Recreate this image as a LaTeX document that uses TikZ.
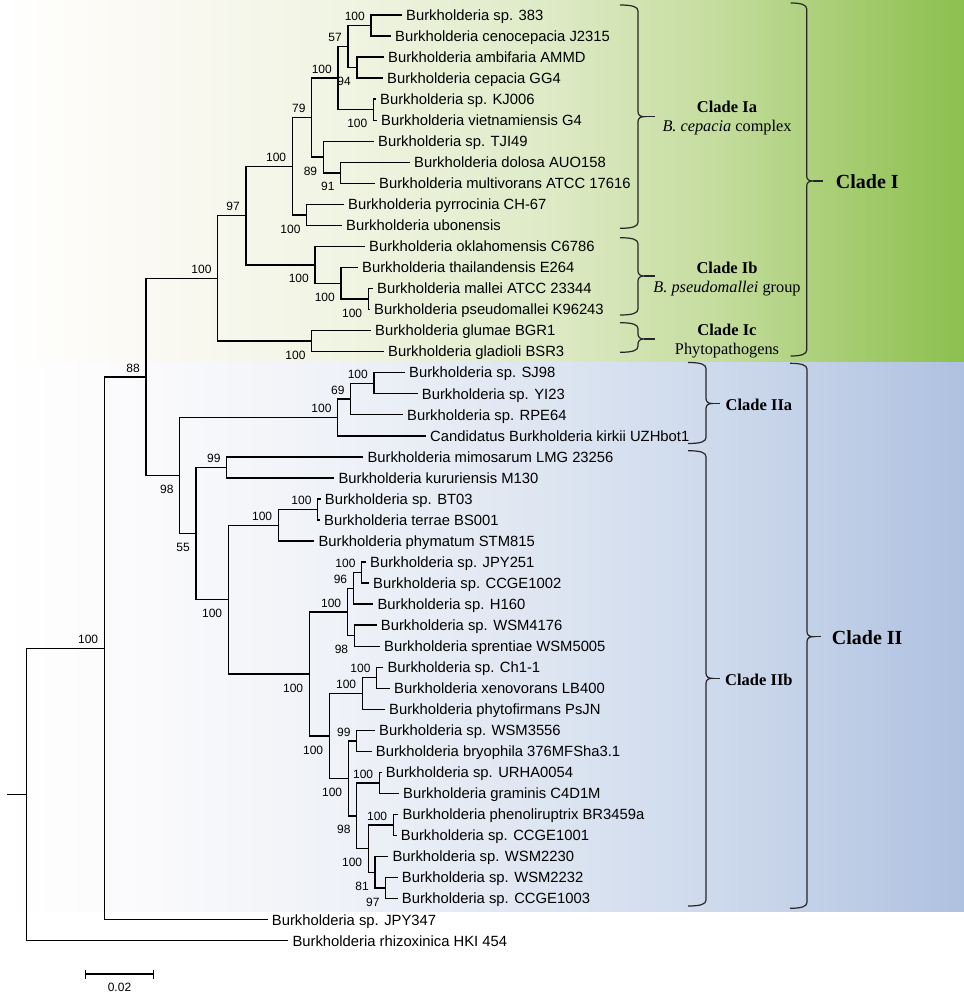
\documentclass[tikz,border=0pt]{standalone}
\usepackage{fontspec}
\setmainfont{Liberation Sans}
\newfontfamily\serifclade{Liberation Serif}
\definecolor{G0}{RGB}{255,255,255}
\definecolor{G1}{RGB}{250,249,243}
\definecolor{G2}{RGB}{240,244,226}
\definecolor{G3}{RGB}{222,234,198}
\definecolor{G4}{RGB}{196,220,157}
\definecolor{G5}{RGB}{165,204,112}
\definecolor{G6}{RGB}{140,192,78}
\definecolor{B0}{RGB}{255,255,255}
\definecolor{B1}{RGB}{250,250,252}
\definecolor{B2}{RGB}{238,241,247}
\definecolor{B3}{RGB}{221,229,241}
\definecolor{B4}{RGB}{205,217,236}
\definecolor{B5}{RGB}{190,205,230}
\definecolor{B6}{RGB}{174,193,224}
\tikzset{
 tree/.style={draw=black, line width=1.4pt},
 leaf/.style={anchor=base west, inner sep=0pt, xshift=4pt, yshift=-5.3pt, font=\fontsize{14.8}{16}\selectfont},
 bs/.style={anchor=east, inner sep=0pt, font=\fontsize{12}{13}\selectfont},
 bracestyle/.style={draw=black!85, line width=1.2pt},
 cladebig/.style={font=\serifclade\bfseries\fontsize{20}{22}\selectfont, anchor=base, inner sep=0pt},
 cladesmall/.style={font=\serifclade\bfseries\fontsize{16.5}{18}\selectfont, anchor=base, inner sep=0pt},
 cladesub/.style={font=\serifclade\fontsize{16.3}{18}\selectfont, anchor=base, inner sep=0pt},
}
\newcommand\leafat[4]{\coordinate (#1) at (#2,#3); \node[leaf] (#1t) at (#1) {#4};}
\newcommand\bsA[2]{\node[bs] (b#1) at ([shift={(-6,-9)}]#1) {#2};}
\newcommand\bsB[2]{\node[bs] (b#1) at ([shift={(-6,14)}]#1) {#2};}
\newcommand\fork[3]{\draw[tree] (#2) -| (#1) |- (#3);}
\newcommand\cbr[6]{%
 \draw[bracestyle] (#1,#4) .. controls ({#2-5},#4) and (#2,{#4+2}) .. (#2,{#4+6}) -- (#2,{#5-5}) .. controls (#2,{#5-1.5}) and ({#2+2.5},#5) .. ({#2+6},#5) .. controls ({#2+2.5},#5) and (#2,{#5+1.5}) .. (#2,{#5+5}) -- (#2,{#6-6}) .. controls (#2,{#6-2}) and ({#2-5},#6) .. (#1,#6);
 \draw[bracestyle] ({#2+6},#5) -- (#3,#5);}
\begin{document}
\begin{tikzpicture}[x=1pt,y=-1pt]
\useasboundingbox (0,0) rectangle (964,999);
% backgrounds
\shade[left color=G0,right color=G1] (0,0) rectangle (150.6,362);
\shade[left color=G1,right color=G2] (150,0) rectangle (350.6,362);
\shade[left color=G2,right color=G3] (350,0) rectangle (550.6,362);
\shade[left color=G3,right color=G4] (550,0) rectangle (720.6,362);
\shade[left color=G4,right color=G5] (720,0) rectangle (850.6,362);
\shade[left color=G5,right color=G6] (850,0) rectangle (964,362);
\shade[left color=B0,right color=B1] (0,362) rectangle (150.6,911.7);
\shade[left color=B1,right color=B2] (150,362) rectangle (350.6,911.7);
\shade[left color=B2,right color=B3] (350,362) rectangle (550.6,911.7);
\shade[left color=B3,right color=B4] (550,362) rectangle (720.6,911.7);
\shade[left color=B4,right color=B5] (720,362) rectangle (850.6,911.7);
\shade[left color=B5,right color=B6] (850,362) rectangle (964,911.7);

% leaves
\leafat{l1}{402}{15.00}{Burkholderia sp. 383}
\leafat{l2}{391}{36.04}{Burkholderia cenocepacia J2315}
\leafat{l3}{384}{57.08}{Burkholderia ambifaria AMMD}
\leafat{l4}{383}{78.12}{Burkholderia cepacia GG4}
\leafat{l5}{376}{99.16}{Burkholderia sp. KJ006}
\leafat{l6}{377}{120.20}{Burkholderia vietnamiensis G4}
\leafat{l7}{374}{141.24}{Burkholderia sp. TJI49}
\leafat{l8}{410}{162.28}{Burkholderia dolosa AUO158}
\leafat{l9}{375}{183.32}{Burkholderia multivorans ATCC 17616}
\leafat{l10}{344}{204.36}{Burkholderia pyrrocinia CH-67}
\leafat{l11}{342}{225.40}{Burkholderia ubonensis}
\leafat{l12}{365}{246.44}{Burkholderia oklahomensis C6786}
\leafat{l13}{358}{267.48}{Burkholderia thailandensis E264}
\leafat{l14}{373}{288.52}{Burkholderia mallei ATCC 23344}
\leafat{l15}{370}{309.56}{Burkholderia pseudomallei K96243}
\leafat{l16}{371}{330.60}{Burkholderia glumae BGR1}
\leafat{l17}{384}{351.64}{Burkholderia gladioli BSR3}
\leafat{l18}{405}{372.68}{Burkholderia sp. SJ98}
\leafat{l19}{417.7}{393.72}{Burkholderia sp. YI23}
\leafat{l20}{403}{414.76}{Burkholderia sp. RPE64}
\leafat{l21}{426}{435.80}{Candidatus Burkholderia kirkii UZHbot1}
\leafat{l22}{363.3}{456.84}{Burkholderia mimosarum LMG 23256}
\leafat{l23}{334.3}{477.88}{Burkholderia kururiensis M130}
\leafat{l24}{320.7}{498.92}{Burkholderia sp. BT03}
\leafat{l25}{320}{519.96}{Burkholderia terrae BS001}
\leafat{l26}{314.3}{541.00}{Burkholderia phymatum STM815}
\leafat{l27}{366}{562.04}{Burkholderia sp. JPY251}
\leafat{l28}{369}{583.08}{Burkholderia sp. CCGE1002}
\leafat{l29}{373.3}{604.12}{Burkholderia sp. H160}
\leafat{l30}{376.7}{625.16}{Burkholderia sp. WSM4176}
\leafat{l31}{380}{646.20}{Burkholderia sprentiae WSM5005}
\leafat{l32}{383.3}{667.24}{Burkholderia sp. Ch1-1}
\leafat{l33}{390}{688.28}{Burkholderia xenovorans LB400}
\leafat{l34}{385}{709.32}{Burkholderia phytofirmans PsJN}
\leafat{l35}{375}{730.36}{Burkholderia sp. WSM3556}
\leafat{l36}{371.7}{751.40}{Burkholderia bryophila 376MFSha3.1}
\leafat{l37}{381.7}{772.44}{Burkholderia sp. URHA0054}
\leafat{l38}{399}{793.48}{Burkholderia graminis C4D1M}
\leafat{l39}{398.3}{814.52}{Burkholderia phenoliruptrix BR3459a}
\leafat{l40}{396.7}{835.56}{Burkholderia sp. CCGE1001}
\leafat{l41}{388.3}{856.60}{Burkholderia sp. WSM2230}
\leafat{l42}{397.7}{877.64}{Burkholderia sp. WSM2232}
\leafat{l43}{397.7}{898.68}{Burkholderia sp. CCGE1003}
\leafat{l44}{267.7}{919.72}{Burkholderia sp. JPY347}
\leafat{l45}{288.3}{940.76}{Burkholderia rhizoxinica HKI 454}

% internal nodes
\coordinate (A) at (371,25.52);
\coordinate (C) at (357,67.60);
\coordinate (B) at (348,46.56);
\coordinate (E) at (373.5,109.68);
\coordinate (D) at (338,78.12);
\coordinate (G) at (340.7,172.80);
\coordinate (H) at (323.3,157.02);
\coordinate (F) at (311.7,117.57);
\coordinate (J) at (306.7,214.88);
\coordinate (I) at (292.3,166.225);
\coordinate (L) at (368.3,299.04);
\coordinate (M) at (341,283.26);
\coordinate (N) at (315,264.85);
\coordinate (K) at (246,215.54);
\coordinate (P) at (311.7,341.12);
\coordinate (O) at (217.7,278.33);
\coordinate (T) at (374,383.20);
\coordinate (U) at (350.7,398.98);
\coordinate (V) at (337.7,417.39);
\coordinate (X) at (226.7,467.36);
\coordinate (Z) at (317.7,509.44);
\coordinate (AA) at (278.3,525.22);
\coordinate (AC) at (361.7,572.56);
\coordinate (AD) at (353.3,588.34);
\coordinate (AF) at (354.3,635.68);
\coordinate (AE) at (347.3,612.01);
\coordinate (AH) at (376.7,677.76);
\coordinate (AI) at (362.3,693.54);
\coordinate (AK) at (356.7,740.88);
\coordinate (AM) at (379.3,782.96);
\coordinate (AO) at (393.3,825.04);
\coordinate (AQ) at (385.7,888.16);
\coordinate (AR) at (375,872.38);
\coordinate (AP) at (368.3,848.71);
\coordinate (AN) at (356.7,815.835);
\coordinate (AL) at (348.3,778.36);
\coordinate (AJ) at (329.3,735.95);
\coordinate (AG) at (309.3,673.98);
\coordinate (AB) at (228.3,599.6);
\coordinate (Y) at (196,533.48);
\coordinate (W) at (179.7,475.435);
\coordinate (Q) at (146,376.88);
\coordinate (S) at (104.3,648.3);
\coordinate (R) at (26.7,794.53);
\coordinate (R0) at (7.3,794.53);

% forks
\fork{A}{l1}{l2}
\fork{C}{l3}{l4}
\fork{B}{A}{C}
\fork{E}{l5}{l6}
\fork{D}{B}{E}
\fork{G}{l8}{l9}
\fork{H}{l7}{G}
\fork{F}{D}{H}
\fork{J}{l10}{l11}
\fork{I}{F}{J}
\fork{L}{l14}{l15}
\fork{M}{l13}{L}
\fork{N}{l12}{M}
\fork{K}{I}{N}
\fork{P}{l16}{l17}
\fork{O}{K}{P}
\fork{T}{l18}{l19}
\fork{U}{T}{l20}
\fork{V}{U}{l21}
\fork{X}{l22}{l23}
\fork{Z}{l24}{l25}
\fork{AA}{Z}{l26}
\fork{AC}{l27}{l28}
\fork{AD}{AC}{l29}
\fork{AF}{l30}{l31}
\fork{AE}{AD}{AF}
\fork{AH}{l32}{l33}
\fork{AI}{AH}{l34}
\fork{AK}{l35}{l36}
\fork{AM}{l37}{l38}
\fork{AO}{l39}{l40}
\fork{AQ}{l42}{l43}
\fork{AR}{l41}{AQ}
\fork{AP}{AO}{AR}
\fork{AN}{AM}{AP}
\fork{AL}{AK}{AN}
\fork{AJ}{AI}{AL}
\fork{AG}{AE}{AJ}
\fork{AB}{AA}{AG}
\fork{Y}{X}{AB}
\fork{W}{V}{Y}
\fork{Q}{O}{W}
\fork{S}{Q}{l44}
\fork{R}{S}{l45}
\draw[tree] (R0) -- (R);

% bootstrap values
\bsA{A}{100} \bsA{B}{57} \bsB{C}{94} \bsA{D}{100} \bsB{E}{100}
\bsA{F}{79} \bsB{G}{91} \bsB{H}{89} \bsA{I}{100} \bsB{J}{100}
\bsA{K}{97} \bsB{L}{100} \bsB{M}{100} \bsB{N}{100} \bsA{O}{100}
\bsB{P}{100} \bsA{Q}{88} \bsA{T}{100} \bsA{U}{69} \bsA{V}{100}
\bsA{X}{99} \bsB{W}{98} \bsB{Y}{55} \bsA{Z}{100} \bsA{AA}{100}
\bsB{AB}{100} \bsA{AC}{100} \bsA{AD}{96} \bsA{AE}{100} \bsB{AF}{98}
\bsB{AG}{100} \bsA{AH}{100} \bsA{AI}{100} \bsB{AJ}{100} \bsA{AK}{99}
\bsB{AL}{100} \bsA{AM}{100} \bsB{AN}{98} \bsA{AO}{100} \bsB{AP}{100}
\bsB{AQ}{97} \bsB{AR}{81} \bsA{S}{100}

% scale bar
\coordinate (sb1) at (85.7,974);
\coordinate (sb2) at (153.3,974);
\draw[tree] (sb1) -- (sb2);
\draw[tree] ([shift={(0,-4.5)}]sb1) -- ([shift={(0,4.5)}]sb1);
\draw[tree] ([shift={(0,-4.5)}]sb2) -- ([shift={(0,4.5)}]sb2);
\node[font=\fontsize{12}{13}\selectfont, inner sep=0pt] (sbl) at (119.5,987.3) {0.02};

% braces
\cbr{620}{638}{655}{5}{116.7}{228.3}
\cbr{620}{638}{655}{237.7}{276}{315}
\cbr{620}{638}{655}{322.7}{339}{352.3}
\cbr{790.7}{806.7}{823}{3}{181}{356}
\cbr{688}{706}{720}{362.5}{403.5}{443.5}
\cbr{688}{706}{720}{450.7}{678.3}{906}
\cbr{790}{807}{821}{363.3}{636.7}{908.3}

% clade labels
\node[cladesmall] (cIa) at (727,112.3) {Clade Ia};
\node[cladesub] (cIas) at (727,131.5) {\textit{B. cepacia} complex};
\node[cladesmall] (cIb) at (727,273.2) {Clade Ib};
\node[cladesub] (cIbs) at (727,292.7) {\textit{B. pseudomallei} group};
\node[cladesmall] (cIc) at (727,335.5) {Clade Ic};
\node[cladesub] (cIcs) at (727,354.5) {Phytopathogens};
\node[cladebig] (cI) at (867.3,188) {Clade I};
\node[cladesmall, anchor=base west] (cIIa) at (725.5,410.5) {Clade IIa};
\node[cladesmall, anchor=base west] (cIIb) at (725,685.5) {Clade IIb};
\node[cladebig] (cII) at (867.2,644.5) {Clade II};
\end{tikzpicture}
\end{document}
